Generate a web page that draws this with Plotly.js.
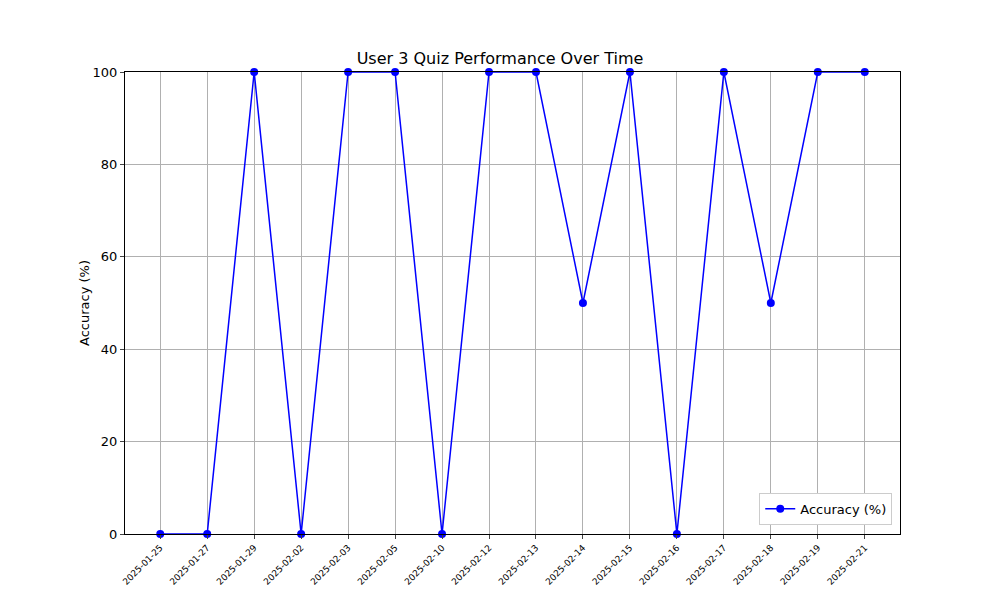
<!DOCTYPE html>
<html>
<head>
<script src="https://cdn.plot.ly/plotly-3.0.1.min.js"></script>
<style>body{margin:0}</style>
</head>
<body>
<div id="myDiv" style="width:1000px;height:600px"></div>
<script>
const dates = ['2025-01-25', '2025-01-27', '2025-01-29', '2025-02-02', '2025-02-03', '2025-02-05',
  '2025-02-10', '2025-02-12', '2025-02-13', '2025-02-14', '2025-02-15', '2025-02-16',
  '2025-02-17', '2025-02-18', '2025-02-19', '2025-02-21'];
const accuracy = [0, 0, 100, 0, 100, 100, 0, 100, 100, 50, 100, 0, 100, 50, 100, 100];

const trace = {
  x: dates,
  y: accuracy,
  type: 'scatter',
  mode: 'lines+markers',
  name: 'Accuracy (%)',
  line: {color: '#0000ff', width: 1.5},
  marker: {color: '#0000ff', size: 8},
  cliponaxis: false
};

const layout = {
  width: 1000,
  height: 600,
  margin: {l: 125, r: 100, t: 72, b: 66},
  paper_bgcolor: '#ffffff',
  plot_bgcolor: '#ffffff',
  font: {family: 'DejaVu Sans', color: '#000000'},
  title: {text: 'User 3 Quiz Performance Over Time', font: {size: 16}, x: 0.5, y: 0.903, yanchor: 'middle', xanchor: 'center'},
  showlegend: true,
  legend: {x: 0.99, y: 0.02, xanchor: 'right', yanchor: 'bottom', bordercolor: '#cccccc', borderwidth: 1, font: {size: 13}},
  xaxis: {
    type: 'category',
    range: [-0.75, 15.75],
    tickangle: -45,
    tickfont: {size: 9},
    ticks: 'outside',
    ticklen: 4,
    showgrid: true,
    gridcolor: '#b0b0b0',
    showline: true,
    mirror: true,
    linecolor: '#000000',
    zeroline: false
  },
  yaxis: {
    title: {text: 'Accuracy (%)', font: {size: 13}},
    range: [0, 100],
    dtick: 20,
    tickfont: {size: 13},
    ticks: 'outside',
    ticklen: 4,
    showgrid: true,
    gridcolor: '#b0b0b0',
    showline: true,
    mirror: true,
    linecolor: '#000000',
    zeroline: false
  }
};

Plotly.newPlot('myDiv', [trace], layout, {displayModeBar: false});
</script>
</body>
</html>
